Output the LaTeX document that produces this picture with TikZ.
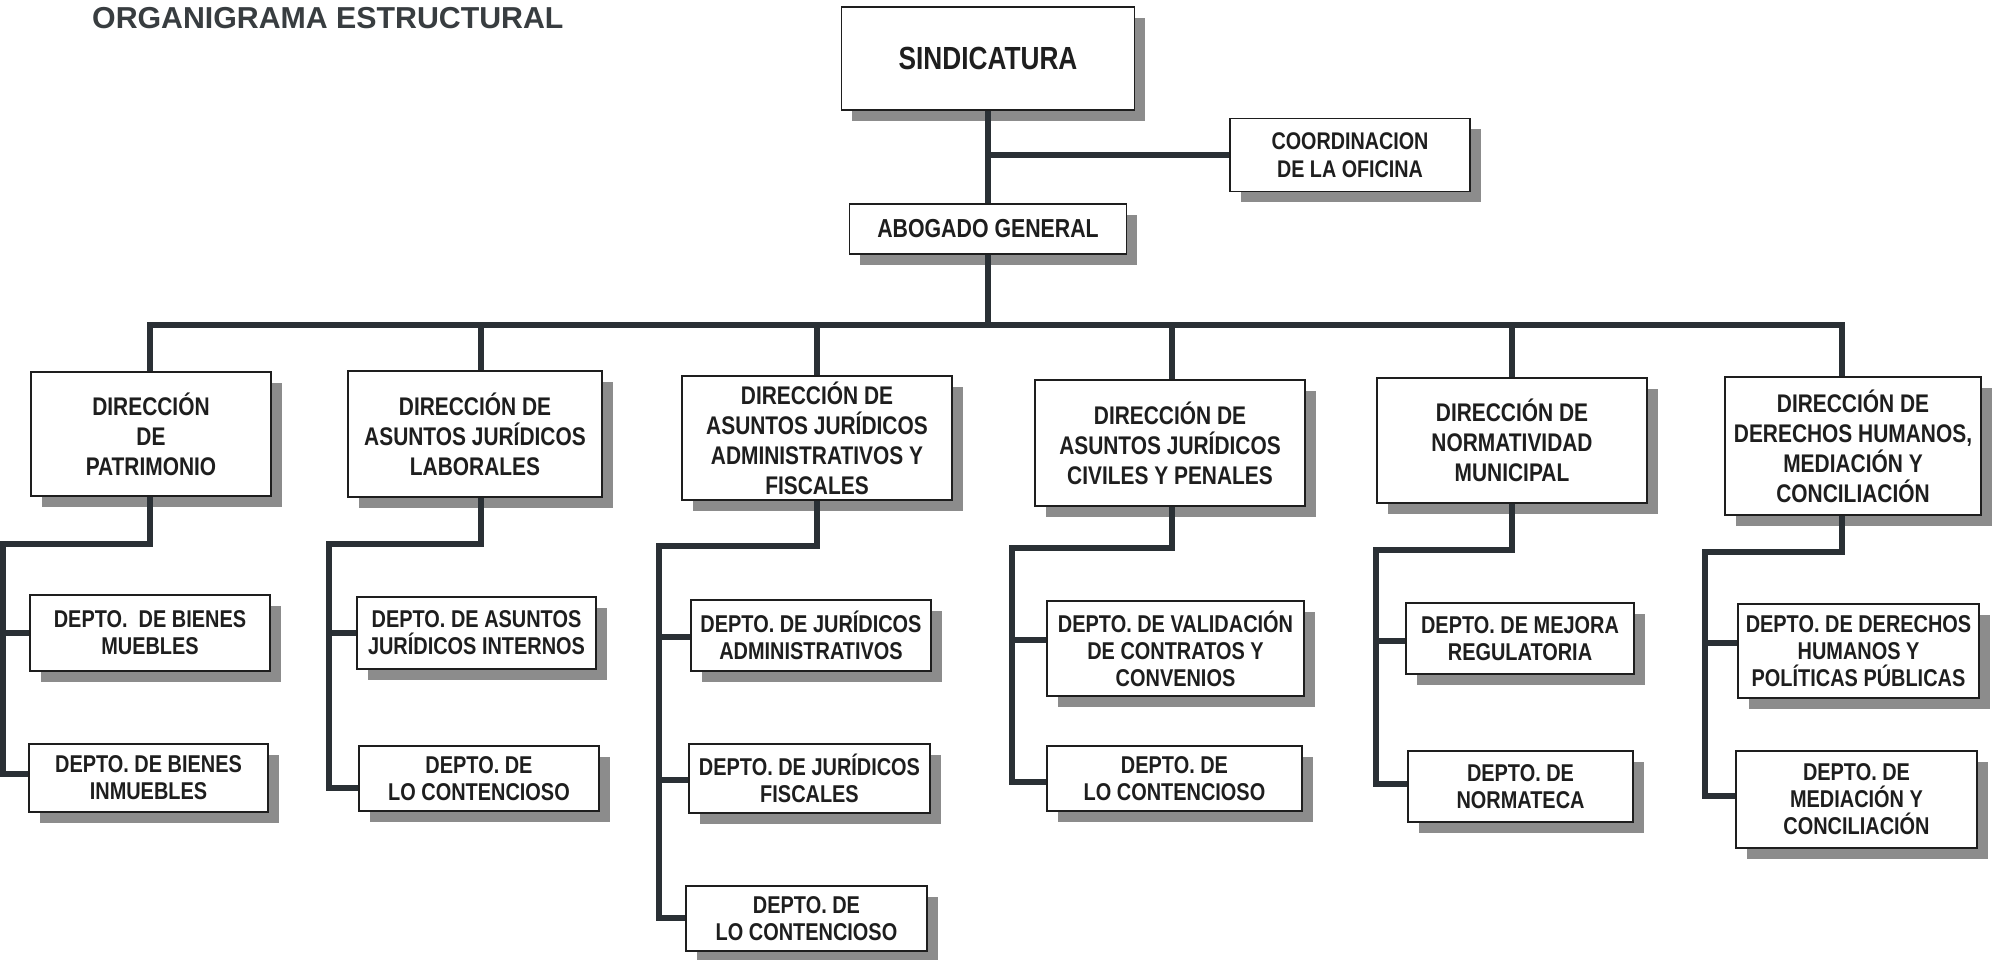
\documentclass[tikz,border=0pt]{standalone}
\usepackage{fontspec}
\setmainfont{Liberation Sans}
\newfontfamily\nar{Liberation Sans}[FakeStretch=0.82]
\usetikzlibrary{shadows}
\definecolor{ink}{HTML}{1E1E1E}
\definecolor{lin}{HTML}{2A3035}
\definecolor{shd}{HTML}{8C8C8C}
\definecolor{ttl}{HTML}{383D40}
\tikzset{
  bx/.style={draw=ink, line width=1.8pt, fill=white, inner sep=0pt, align=center, text=ink,
    font=\nar\bfseries\fontsize{25.5}{30}\selectfont,
    drop shadow={shadow xshift=10.5pt, shadow yshift=-10.5pt, fill=shd, opacity=1}},
  dirbox/.style={bx},
  depbox/.style={bx, font=\nar\bfseries\fontsize{24.3}{27}\selectfont},
  con/.style={draw=lin, line width=5.5pt, line join=miter},
}
\begin{document}
\begin{tikzpicture}[x=1pt, y=-1pt]
\fill[white] (0,0) rectangle (1996,959);
\useasboundingbox (0,0) rectangle (1996,959);

\node[anchor=base west, inner sep=0pt, text=ttl, font=\bfseries\fontsize{30.3}{36}\selectfont] (title) at (92,28) {ORGANIGRAMA ESTRUCTURAL};

% top
\node[bx, minimum width=293pt, minimum height=103pt, font=\nar\bfseries\fontsize{32}{38}\selectfont] (sind) at (988,58.5) {SINDICATURA};
\node[bx, minimum width=240pt, minimum height=73pt, font=\nar\bfseries\fontsize{24.1}{28.5}\selectfont] (coord) at (1350,155) {COORDINACION\\DE LA OFICINA};
\node[bx, minimum width=277pt, minimum height=50pt, font=\nar\bfseries\fontsize{26}{30}\selectfont] (abog) at (988,229) {ABOGADO GENERAL};

% direcciones
\node[dirbox, minimum width=240pt, minimum height=124pt] (d1) at (151,434) {DIRECCIÓN\\DE\\PATRIMONIO};
\node[dirbox, minimum width=254pt, minimum height=126pt] (d2) at (475,434) {DIRECCIÓN DE\\ASUNTOS JURÍDICOS\\LABORALES};
\node[dirbox, minimum width=270pt, minimum height=124pt] (d3) at (817,438) {DIRECCIÓN DE\\ASUNTOS JURÍDICOS\\ADMINISTRATIVOS Y\\FISCALES};
\node[dirbox, minimum width=270pt, minimum height=126pt] (d4) at (1170,443) {DIRECCIÓN DE\\ASUNTOS JURÍDICOS\\CIVILES Y PENALES};
\node[dirbox, minimum width=270pt, minimum height=125pt] (d5) at (1512,440.5) {DIRECCIÓN DE\\NORMATIVIDAD\\MUNICIPAL};
\node[dirbox, minimum width=256pt, minimum height=138pt] (d6) at (1853,446) {DIRECCIÓN DE\\DERECHOS HUMANOS,\\MEDIACIÓN Y\\CONCILIACIÓN};

% departamentos
\node[depbox, minimum width=240pt, minimum height=76pt] (p1a) at (150,633) {DEPTO.\ \ DE BIENES\\MUEBLES};
\node[depbox, minimum width=239pt, minimum height=68pt] (p1b) at (148.5,778) {DEPTO. DE BIENES\\INMUEBLES};
\node[depbox, minimum width=239pt, minimum height=72pt] (p2a) at (476.5,633) {DEPTO. DE ASUNTOS\\JURÍDICOS INTERNOS};
\node[depbox, minimum width=240pt, minimum height=65pt] (p2b) at (479,778.5) {DEPTO. DE\\LO CONTENCIOSO};
\node[depbox, minimum width=240pt, minimum height=71pt] (p3a) at (811,635.5) {DEPTO. DE JURÍDICOS\\ADMINISTRATIVOS};
\node[depbox, minimum width=241pt, minimum height=69pt] (p3b) at (809.5,778.5) {DEPTO. DE JURÍDICOS\\FISCALES};
\node[depbox, minimum width=241pt, minimum height=65pt] (p3c) at (806.5,918.5) {DEPTO. DE\\LO CONTENCIOSO};
\node[depbox, minimum width=257pt, minimum height=95pt] (p4a) at (1175.5,648.5) {DEPTO. DE VALIDACIÓN\\DE CONTRATOS Y\\CONVENIOS};
\node[depbox, minimum width=255pt, minimum height=65pt] (p4b) at (1174.5,778.5) {DEPTO. DE\\LO CONTENCIOSO};
\node[depbox, minimum width=228pt, minimum height=71pt] (p5a) at (1520,638.5) {DEPTO. DE MEJORA\\REGULATORIA};
\node[depbox, minimum width=225pt, minimum height=71pt] (p5b) at (1520.5,786.5) {DEPTO. DE\\NORMATECA};
\node[depbox, minimum width=241pt, minimum height=94pt] (p6a) at (1858.5,651) {DEPTO. DE DERECHOS\\HUMANOS Y\\POLÍTICAS PÚBLICAS};
\node[depbox, minimum width=241pt, minimum height=97pt] (p6b) at (1856.5,799.5) {DEPTO. DE\\MEDIACIÓN Y\\CONCILIACIÓN};

% coordinates
\coordinate (bus) at (988,325);
\coordinate (t1) at (150,325);
\coordinate (t2) at (481,325);
\coordinate (t3) at (817,325);
\coordinate (t4) at (1172,325);
\coordinate (t5) at (1512,325);
\coordinate (t6) at (1842,325);

\coordinate (h1) at (150,544);  \coordinate (v1) at (3,544);
\coordinate (s1a) at (3,633);   \coordinate (s1b) at (3,774);
\coordinate (h2) at (481,544);  \coordinate (v2) at (329,544);
\coordinate (s2a) at (329,633); \coordinate (s2b) at (329,788);
\coordinate (h3) at (817,546);  \coordinate (v3) at (659,546);
\coordinate (s3a) at (659,637); \coordinate (s3b) at (659,780); \coordinate (s3c) at (659,918);
\coordinate (h4) at (1172,548); \coordinate (v4) at (1012,548);
\coordinate (s4a) at (1012,640); \coordinate (s4b) at (1012,782);
\coordinate (h5) at (1512,550); \coordinate (v5) at (1376,550);
\coordinate (s5a) at (1376,641); \coordinate (s5b) at (1376,784);
\coordinate (h6) at (1842,552); \coordinate (v6) at (1705,552);
\coordinate (s6a) at (1705,643); \coordinate (s6b) at (1705,796);

% connectors
\draw[con] (sind.south) -- (abog.north);
\draw[con] (sind.south |- coord.west) -- (coord.west);
\draw[con] (abog.south) -- (bus);
\draw[con] (t1 |- d1.north) -- (t1) -- (t6) -- (t6 |- d6.north);
\draw[con] (t2) -- (t2 |- d2.north);
\draw[con] (t3) -- (t3 |- d3.north);
\draw[con] (t4) -- (t4 |- d4.north);
\draw[con] (t5) -- (t5 |- d5.north);

\draw[con] (t1 |- d1.south) -- (h1) -- (v1) -- (s1b) -- (s1b -| p1b.west);
\draw[con] (s1a) -- (s1a -| p1a.west);

\draw[con] (t2 |- d2.south) -- (h2) -- (v2) -- (s2b) -- (s2b -| p2b.west);
\draw[con] (s2a) -- (s2a -| p2a.west);

\draw[con] (t3 |- d3.south) -- (h3) -- (v3) -- (s3c) -- (s3c -| p3c.west);
\draw[con] (s3a) -- (s3a -| p3a.west);
\draw[con] (s3b) -- (s3b -| p3b.west);

\draw[con] (t4 |- d4.south) -- (h4) -- (v4) -- (s4b) -- (s4b -| p4b.west);
\draw[con] (s4a) -- (s4a -| p4a.west);

\draw[con] (t5 |- d5.south) -- (h5) -- (v5) -- (s5b) -- (s5b -| p5b.west);
\draw[con] (s5a) -- (s5a -| p5a.west);

\draw[con] (t6 |- d6.south) -- (h6) -- (v6) -- (s6b) -- (s6b -| p6b.west);
\draw[con] (s6a) -- (s6a -| p6a.west);
\end{tikzpicture}
\end{document}
